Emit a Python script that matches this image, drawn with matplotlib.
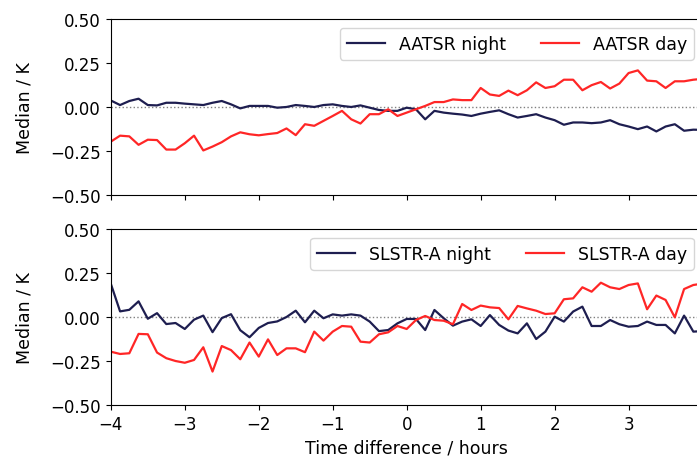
import numpy as np
import matplotlib
matplotlib.use('Agg')
import matplotlib.pyplot as plt

# time bins (hours), 7.5 minute spacing
hours = np.arange(65) * 0.125 - 4.0

aatsr_night = [0.037, 0.011, 0.034, 0.047, 0.011, 0.009, 0.024, 0.024, 0.019, 0.015,
               0.011, 0.024, 0.034, 0.015, -0.008, 0.006, 0.006, 0.006, -0.004, 0.000,
               0.011, 0.006, 0.000, 0.011, 0.015, 0.006, 0.000, 0.009, -0.004, -0.017,
               -0.022, -0.022, -0.004, -0.013, -0.070, -0.022, -0.032, -0.038, -0.043, -0.051,
               -0.038, -0.028, -0.019, -0.041, -0.060, -0.051, -0.041, -0.060, -0.075, -0.101,
               -0.088, -0.088, -0.092, -0.088, -0.075, -0.098, -0.111, -0.126, -0.111, -0.139,
               -0.111, -0.098, -0.135, -0.129, -0.130]
aatsr_day = [-0.197, -0.163, -0.167, -0.215, -0.186, -0.188, -0.242, -0.242, -0.206, -0.163,
             -0.247, -0.225, -0.200, -0.167, -0.144, -0.155, -0.161, -0.154, -0.148, -0.122,
             -0.160, -0.098, -0.107, -0.079, -0.051, -0.022, -0.070, -0.094, -0.041, -0.041,
             -0.013, -0.051, -0.032, -0.013, 0.006, 0.028, 0.028, 0.043, 0.039, 0.039,
             0.108, 0.071, 0.063, 0.093, 0.067, 0.095, 0.140, 0.108, 0.118, 0.155,
             0.155, 0.095, 0.124, 0.142, 0.105, 0.133, 0.193, 0.208, 0.150, 0.146,
             0.108, 0.146, 0.146, 0.155, 0.160]
slstr_night = [0.189, 0.032, 0.041, 0.089, -0.010, 0.022, -0.040, -0.034, -0.068, -0.015,
               0.008, -0.086, -0.006, 0.016, -0.075, -0.115, -0.062, -0.034, -0.025, 0.000,
               0.036, -0.030, 0.036, -0.007, 0.015, 0.008, 0.015, 0.008, -0.026, -0.080,
               -0.074, -0.036, -0.011, -0.011, -0.074, 0.040, -0.007, -0.049, -0.026, -0.013,
               -0.051, 0.011, -0.045, -0.077, -0.093, -0.036, -0.125, -0.083, 0.002, -0.026,
               0.031, 0.059, -0.051, -0.051, -0.017, -0.041, -0.055, -0.051, -0.026, -0.045,
               -0.045, -0.093, 0.008, -0.083, -0.080]
slstr_day = [-0.197, -0.210, -0.206, -0.096, -0.098, -0.202, -0.234, -0.250, -0.260, -0.244,
             -0.172, -0.310, -0.165, -0.188, -0.240, -0.145, -0.225, -0.127, -0.216, -0.178,
             -0.178, -0.200, -0.083, -0.134, -0.083, -0.051, -0.055, -0.140, -0.145, -0.098,
             -0.087, -0.051, -0.068, -0.017, 0.006, -0.017, -0.021, -0.041, 0.074, 0.040,
             0.065, 0.055, 0.051, -0.013, 0.063, 0.049, 0.036, 0.017, 0.021, 0.101,
             0.106, 0.169, 0.144, 0.195, 0.169, 0.159, 0.182, 0.191, 0.044, 0.122,
             0.097, -0.002, 0.159, 0.182, 0.190]

night_colour = '#1e1e50'
day_colour = '#ff2626'

plt.rcParams['font.size'] = 12.5
plt.rcParams['xtick.labelsize'] = 12
plt.rcParams['ytick.labelsize'] = 12

fig = plt.figure(figsize=(6.97, 4.6), dpi=100)
ax1 = fig.add_axes([0.159, 0.574, 0.849, 0.3825])
ax2 = fig.add_axes([0.159, 0.1174, 0.849, 0.3825], sharex=ax1)

panels = [
    (ax1, aatsr_night, aatsr_day, 'AATSR'),
    (ax2, slstr_night, slstr_day, 'SLSTR-A'),
]
for ax, night, day, name in panels:
    ax.axhline(0, color='grey', linestyle=':', linewidth=1)
    ax.plot(hours, night, color=night_colour, linewidth=1.6, label=name + ' night')
    ax.plot(hours, day, color=day_colour, linewidth=1.6, label=name + ' day')
    ax.set_ylim(-0.5, 0.5)
    ax.set_yticks([-0.5, -0.25, 0, 0.25, 0.5])
    ax.set_yticklabels(['\u22120.50', '\u22120.25', '0.00', '0.25', '0.50'])
    ax.set_ylabel('Median / K', labelpad=12)
    ax.legend(loc='upper right', ncol=2, fontsize=12.5, handlelength=2.2,
              columnspacing=2.0)

ax1.set_xlim(-4, 4)
ax1.set_xticks(range(-4, 5))
plt.setp(ax1.get_xticklabels(), visible=False)
ax2.set_xlabel('Time difference / hours')

fig.savefig('out.png', dpi=100)
